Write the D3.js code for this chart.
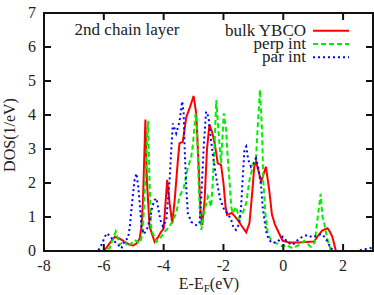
<!DOCTYPE html>
<html>
<meta charset="utf-8">
<style>
body { margin: 0; background: #fff; }
text { font-family: "Liberation Serif", "DejaVu Serif", serif; fill: #222; }
</style>
<body>
<script src="https://d3js.org/d3.v7.min.js"></script>
<script>
// series: energy (eV) and DOS (1/eV)
var bulkE   = [-8, -6.0, -5.97, -5.8, -5.63, -5.47, -5.3, -5.13, -5.02, -4.91, -4.8, -4.74, -4.69, -4.61, -4.56, -4.47, -4.3, -4.19, -4.08, -4.0, -3.88, -3.8, -3.71, -3.63, -3.53, -3.47, -3.36, -3.24, -3.13, -3.0, -2.91, -2.83, -2.77, -2.71, -2.63, -2.55, -2.47, -2.38, -2.3, -2.19, -2.08, -2.0, -1.93, -1.88, -1.72, -1.62, -1.52, -1.4, -1.24, -1.13, -1.03, -0.97, -0.91, -0.74, -0.58, -0.47, -0.38, -0.28, -0.13, -0.02, 0.2, 0.53, 0.87, 1.03, 1.14, 1.3, 1.48, 1.57, 1.64, 1.76, 3];
var bulkDOS = [0, 0, 0.03, 0.23, 0.42, 0.36, 0.27, 0.18, 0.16, 0.22, 0.37, 0.72, 1.5, 3.87, 2.09, 0.72, 0.27, 0.4, 0.57, 0.65, 2.09, 1.4, 0.81, 1.5, 2.6, 3.17, 3.21, 3.95, 4.2, 4.56, 4.05, 2.5, 1.2, 0.76, 1.5, 3.0, 3.71, 3.5, 3.2, 2.58, 2.53, 2.0, 1.3, 1.06, 1.12, 1.02, 0.91, 0.75, 0.55, 0.82, 1.8, 2.48, 2.63, 2.04, 2.48, 1.79, 1.08, 0.78, 0.5, 0.3, 0.25, 0.25, 0.27, 0.28, 0.42, 0.6, 0.67, 0.55, 0.42, 0, 0];

var perpE   = [-8, -6.0, -5.8, -5.7, -5.6, -5.47, -5.33, -5.19, -4.97, -4.8, -4.7, -4.62, -4.52, -4.47, -4.41, -4.24, -4.08, -3.93, -3.8, -3.58, -3.47, -3.33, -3.19, -3.08, -3.02, -2.93, -2.88, -2.83, -2.78, -2.74, -2.63, -2.52, -2.41, -2.36, -2.3, -2.24, -2.17, -2.08, -1.99, -1.91, -1.86, -1.8, -1.74, -1.69, -1.58, -1.47, -1.36, -1.24, -1.13, -1.02, -0.91, -0.86, -0.78, -0.71, -0.67, -0.6, -0.52, -0.41, -0.24, -0.02, 0.09, 0.31, 0.53, 0.7, 0.92, 1.05, 1.14, 1.25, 1.31, 1.39, 1.48, 1.59, 1.7, 3];
var perpDOS = [0, 0, 0.09, 0.35, 0.57, 0.18, 0.3, 0.13, 0.32, 0.23, 0.5, 2.0, 3.83, 2.0, 0.62, 0.27, 0.42, 0.6, 0.72, 1.11, 1.6, 1.85, 2.45, 2.75, 3.15, 4.05, 3.5, 2.0, 1.0, 0.62, 1.2, 1.6, 1.3, 2.0, 3.07, 4.44, 3.56, 2.58, 4.05, 3.56, 2.77, 2.09, 1.3, 1.11, 1.3, 0.96, 1.11, 1.4, 2.09, 2.48, 2.77, 3.56, 4.74, 3.56, 2.09, 1.11, 0.52, 0.32, 0.23, 0.13, 0.18, 0.08, 0.18, 0.3, 0.12, 0.25, 0.91, 1.68, 1.01, 0.72, 0.32, 0.03, 0, 0];

var parE   = [-8, -6.19, -6.07, -5.91, -5.8, -5.69, -5.52, -5.41, -5.3, -5.19, -5.13, -5.08, -5.02, -4.97, -4.91, -4.85, -4.8, -4.74, -4.67, -4.57, -4.47, -4.38, -4.3, -4.24, -4.19, -4.11, -4.02, -3.91, -3.8, -3.74, -3.69, -3.58, -3.47, -3.38, -3.33, -3.3, -3.24, -3.19, -3.08, -2.91, -2.8, -2.74, -2.66, -2.58, -2.5, -2.43, -2.36, -2.28, -2.19, -2.1, -1.97, -1.86, -1.74, -1.66, -1.58, -1.47, -1.41, -1.36, -1.3, -1.24, -1.17, -1.08, -0.99, -0.91, -0.82, -0.74, -0.69, -0.63, -0.56, -0.47, -0.36, -0.19, -0.02, 0.09, 0.2, 0.31, 0.48, 0.64, 0.81, 0.98, 1.13, 1.27, 1.4, 1.48, 1.59, 1.7, 2.47, 2.7, 3];
var parDOS = [0, 0, 0.2, 0.52, 0.45, 0.32, 0.18, 0.08, 0.32, 0.37, 0.72, 1.2, 1.7, 2.1, 2.28, 1.9, 1.4, 0.72, 0.5, 0.6, 0.9, 1.3, 1.5, 1.55, 1.3, 0.91, 0.72, 0.91, 2.09, 3.07, 3.75, 3.46, 3.8, 4.4, 4.05, 3.07, 1.79, 1.11, 0.86, 0.76, 0.81, 1.6, 3.07, 4.1, 3.95, 3.36, 2.87, 2.38, 1.89, 1.5, 1.2, 1.11, 0.91, 0.67, 0.62, 0.81, 1.3, 2.09, 2.97, 3.07, 2.68, 2.48, 2.58, 2.72, 2.38, 1.89, 1.3, 0.91, 0.52, 0.32, 0.23, 0.27, 0.42, 0.32, 0.23, 0.18, 0.32, 0.42, 0.47, 0.4, 0.45, 0.5, 0.4, 0.27, 0.08, 0, 0, 0.05, 0.1];

var seriesNames = ["bulk YBCO", "perp int", "par int"];
var xTicks = [-8, -6, -4, -2, 0, 2];
var yTicks = [0, 1, 2, 3, 4, 5, 6, 7];

var width = 374, height = 295;
var plotL = 44, plotR = 373, plotT = 13, plotB = 251;

var svg = d3.select("body").append("svg")
    .attr("width", width)
    .attr("height", height);

var x = d3.scaleLinear().domain([-8, 3]).range([plotL, plotR]);
var y = d3.scaleLinear().domain([0, 7]).range([plotB, plotT]);

svg.append("clipPath").attr("id", "clip")
  .append("rect")
    .attr("x", plotL).attr("y", plotT)
    .attr("width", plotR - plotL).attr("height", plotB - plotT);

var line = d3.line()
    .x(function(d) { return x(d[0]); })
    .y(function(d) { return y(d[1]); });

var series = [
  { e: bulkE, v: bulkDOS, color: "#ff0000", dash: null },
  { e: perpE, v: perpDOS, color: "#00ee00", dash: "5,3" },
  { e: parE, v: parDOS, color: "#0000ff", dash: "2,3" }
];

series.forEach(function(s) {
  var pts = s.e.map(function(e, i) { return [e, s.v[i]]; });
  svg.append("path")
      .datum(pts)
      .attr("clip-path", "url(#clip)")
      .attr("d", line)
      .style("fill", "none")
      .style("stroke", s.color)
      .style("stroke-width", 2)
      .style("stroke-dasharray", s.dash);
});

// frame + ticks (mirrored, pointing inward)
var tl = 7;
var g = svg.append("g").style("stroke", "#111").style("stroke-width", 2);
xTicks.forEach(function(t) {
  g.append("line").attr("x1", x(t)).attr("x2", x(t)).attr("y1", plotB).attr("y2", plotB - tl);
  g.append("line").attr("x1", x(t)).attr("x2", x(t)).attr("y1", plotT).attr("y2", plotT + tl);
});
yTicks.forEach(function(t) {
  g.append("line").attr("x1", plotL).attr("x2", plotL + tl).attr("y1", y(t)).attr("y2", y(t));
  g.append("line").attr("x1", plotR).attr("x2", plotR - tl).attr("y1", y(t)).attr("y2", y(t));
});
g.append("rect")
    .attr("x", plotL).attr("y", plotT)
    .attr("width", plotR - plotL).attr("height", plotB - plotT)
    .style("fill", "none");

svg.selectAll(".xl")
  .data(xTicks)
  .enter().append("text")
    .attr("x", function(d) { return x(d); })
    .attr("y", plotB + 20)
    .attr("text-anchor", "middle")
    .style("font-size", "16px")
    .text(function(d) { return d; });

svg.selectAll(".yl")
  .data(yTicks)
  .enter().append("text")
    .attr("x", plotL - 8)
    .attr("y", function(d) { return y(d) + 5; })
    .attr("text-anchor", "end")
    .style("font-size", "16px")
    .text(function(d) { return d; });

// axis titles
svg.append("text")
    .attr("transform", "translate(15,135) rotate(-90)")
    .attr("text-anchor", "middle")
    .style("font-size", "16px")
    .text("DOS(1/eV)");

var xt = svg.append("text")
    .attr("x", 209)
    .attr("y", 289)
    .attr("text-anchor", "middle")
    .style("font-size", "16px");
xt.append("tspan").text("E-E");
xt.append("tspan").attr("dy", 3).style("font-size", "11px").text("F");
xt.append("tspan").attr("dy", -3).text("(eV)");

svg.append("text")
    .attr("x", 127)
    .attr("y", 35)
    .attr("text-anchor", "middle")
    .style("font-size", "17px")
    .text("2nd chain layer");

// legend
seriesNames.forEach(function(name, i) {
  var ly = 30.7 + i * 13.3;
  svg.append("text")
      .attr("x", 306)
      .attr("y", ly + 5)
      .attr("text-anchor", "end")
      .style("font-size", "17px")
      .text(name);
  svg.append("line")
      .attr("x1", 313).attr("x2", 349)
      .attr("y1", ly).attr("y2", ly)
      .style("stroke", series[i].color)
      .style("stroke-width", 2)
      .style("stroke-dasharray", series[i].dash);
});
</script>
</body>
</html>
